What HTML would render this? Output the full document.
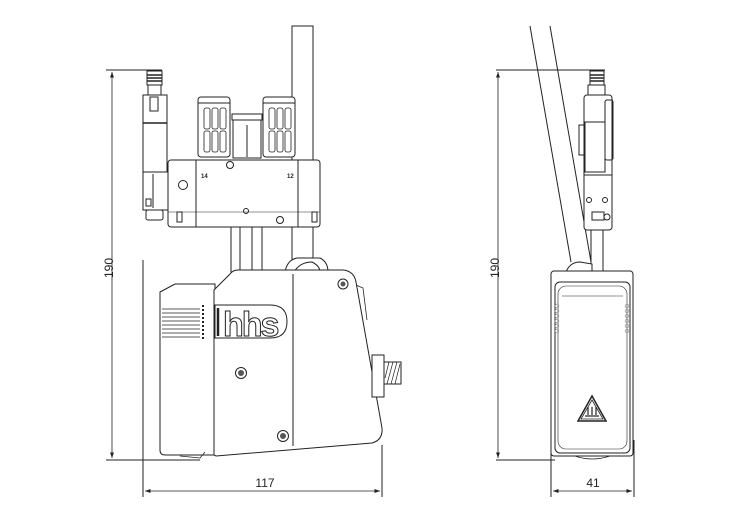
<!DOCTYPE html>
<html><head><meta charset="utf-8"><style>
html,body{margin:0;padding:0;background:#fff;}
svg{display:block}
text{font-family:"Liberation Sans",sans-serif;}
</style></head><body>
<svg width="750" height="530" viewBox="0 0 750 530" xmlns="http://www.w3.org/2000/svg" fill="none" stroke="#222" stroke-width="1">
<defs>
<marker id="a" markerWidth="8" markerHeight="8" refX="7" refY="4" orient="auto-start-reverse"><path d="M0,1.5 L7,4 L0,6.5" fill="#222" stroke="none"/></marker>
</defs>
<line x1="106" y1="70" x2="162" y2="70"/>
<line x1="106" y1="460" x2="200" y2="460"/>
<line x1="112" y1="72" x2="112" y2="458" marker-start="url(#a)" marker-end="url(#a)" stroke-width="0.8"/>
<text x="0" y="0" transform="translate(113,268) rotate(-90)" font-size="12" fill="#222" stroke="none" text-anchor="middle">190</text>
<line x1="143" y1="260" x2="143" y2="497"/>
<line x1="382" y1="445" x2="382" y2="497"/>
<line x1="145" y1="491" x2="380" y2="491" marker-start="url(#a)" marker-end="url(#a)" stroke-width="0.8"/>
<text x="265" y="487" font-size="12" fill="#222" stroke="none" text-anchor="middle">117</text>
<rect x="292" y="26" width="21" height="240" fill="#fff"/>
<rect x="147" y="71" width="15" height="14" fill="#fff"/>
<g stroke-width="1.5"><line x1="147" y1="75" x2="162" y2="75"/><line x1="147" y1="78" x2="162" y2="78"/><line x1="147" y1="81" x2="162" y2="81"/></g>
<rect x="148" y="85" width="13" height="10" fill="#fff"/>
<rect x="143" y="95" width="24" height="77" fill="#fff"/>
<rect x="150" y="97" width="8" height="14"/>
<line x1="143" y1="123" x2="167" y2="123" stroke-width="1.5"/>
<rect x="143" y="172" width="26" height="38" fill="#fff"/>
<line x1="153" y1="174" x2="153" y2="208"/>
<rect x="146" y="199" width="5" height="7"/>
<rect x="146" y="210" width="17" height="10" rx="2" fill="#fff"/>
<g fill="#fff">
<rect x="198" y="97" width="32" height="60" rx="3"/>
<rect x="263" y="97" width="32" height="60" rx="3"/>
<rect x="232" y="114" width="30" height="6"/>
<rect x="233" y="120" width="28" height="38"/>
</g>
<line x1="247" y1="125" x2="247" y2="157"/>
<line x1="198" y1="103" x2="230" y2="103"/><line x1="263" y1="103" x2="295" y2="103"/>
<g stroke-width="0.8">
<rect x="204" y="108" width="6" height="21" rx="2"/><rect x="212" y="108" width="6" height="21" rx="2"/><rect x="220" y="108" width="6" height="21" rx="2"/>
<rect x="204" y="131" width="6" height="21" rx="2"/><rect x="212" y="131" width="6" height="21" rx="2"/><rect x="220" y="131" width="6" height="21" rx="2"/>
<rect x="269" y="108" width="6" height="21" rx="2"/><rect x="277" y="108" width="6" height="21" rx="2"/><rect x="285" y="108" width="6" height="21" rx="2"/>
<rect x="269" y="131" width="6" height="21" rx="2"/><rect x="277" y="131" width="6" height="21" rx="2"/><rect x="285" y="131" width="6" height="21" rx="2"/>
</g>
<rect x="168" y="160" width="152" height="67" rx="3" fill="#fff"/>
<line x1="196" y1="160" x2="196" y2="227"/><line x1="298" y1="160" x2="298" y2="227"/>
<line x1="168" y1="212" x2="320" y2="212" stroke-width="0.6"/>
<circle cx="183" cy="185" r="4.5"/><circle cx="246" cy="211" r="2.5"/>
<circle cx="230" cy="165" r="3.5" fill="#fff"/><circle cx="280" cy="220" r="3.5" fill="#fff"/>
<text x="201" y="178" font-size="6" font-weight="bold" fill="#222" stroke="none">14</text>
<text x="287" y="178" font-size="6" font-weight="bold" fill="#222" stroke="none">12</text>
<rect x="177" y="212" width="5" height="10"/><rect x="312" y="212" width="5" height="10"/>
<rect x="231" y="227" width="31" height="45" fill="#fff"/>
<line x1="240" y1="227" x2="240" y2="272"/><line x1="252" y1="227" x2="252" y2="272"/>
<path d="M285,272 Q287,260 297,258 L320,258 Q328,262 328,272" fill="#fff"/>
<path d="M294,272 Q300,262 312,262 Q320,266 320,272"/>
<path d="M160,292 L175,284 L215,284 L215,455 L165,455 Q160,455 160,450 Z" fill="#fff"/>
<g stroke-width="0.8">
<line x1="162" y1="309" x2="200" y2="309"/><line x1="162" y1="313" x2="200" y2="313"/><line x1="162" y1="317" x2="200" y2="317"/><line x1="162" y1="321" x2="200" y2="321"/><line x1="162" y1="325" x2="200" y2="325"/><line x1="162" y1="329" x2="200" y2="329"/><line x1="162" y1="333" x2="200" y2="333"/><line x1="162" y1="337" x2="200" y2="337"/>
</g>
<line x1="203" y1="305" x2="203" y2="340" stroke-dasharray="2,2" stroke-width="2"/>
<path d="M214,290 L230,274 Q233,270 238,270 L343,270 Q354,271 356,282 L382,428 Q383,440 372,443 L216,456 L214,455 Z" fill="#fff"/>
<line x1="293" y1="274" x2="293" y2="446"/>
<path d="M356,285 L363,288 L367,320" stroke-width="0.8"/>
<path d="M215,305 L270,305 Q287,305 287,321.5 Q287,338 270,338 L215,338 Z" fill="#fff"/>
<line x1="218" y1="308" x2="218" y2="336" stroke-width="2.5"/>
<text x="223" y="336" font-size="34" font-weight="bold" fill="#fff" stroke="#222" stroke-width="1" letter-spacing="-2">hhs</text>
<g fill="#fff"><circle cx="343" cy="284" r="5"/><circle cx="241" cy="373" r="5.5"/><circle cx="283" cy="436" r="5.5"/></g>
<g fill="#555" stroke="none"><circle cx="343" cy="284" r="2.5"/><circle cx="241" cy="373" r="3"/><circle cx="283" cy="436" r="3"/></g>
<rect x="372" y="355" width="12" height="42" fill="#fff"/>
<rect x="384" y="362" width="17" height="22" fill="#fff"/>
<g stroke-width="0.7"><line x1="387" y1="384" x2="393" y2="362"/><line x1="391" y1="384" x2="397" y2="362"/><line x1="395" y1="384" x2="400" y2="364"/><line x1="385" y1="378" x2="389" y2="362"/></g>
<path d="M180,456 L200,458 L205,452" stroke-width="0.8"/>
<line x1="496" y1="70" x2="605" y2="70"/>
<line x1="496" y1="460" x2="555" y2="460"/>
<line x1="498" y1="72" x2="498" y2="458" marker-start="url(#a)" marker-end="url(#a)" stroke-width="0.8"/>
<text x="0" y="0" transform="translate(499,268) rotate(-90)" font-size="12" fill="#222" stroke="none" text-anchor="middle">190</text>
<line x1="551" y1="440" x2="551" y2="497"/>
<line x1="634" y1="440" x2="634" y2="497"/>
<line x1="553" y1="491" x2="632" y2="491" marker-start="url(#a)" marker-end="url(#a)" stroke-width="0.8"/>
<text x="593" y="487" font-size="12" fill="#222" stroke="none" text-anchor="middle">41</text>
<line x1="530" y1="26" x2="571" y2="262"/>
<line x1="550" y1="26" x2="591" y2="262"/>
<rect x="590" y="71" width="14" height="14" fill="#fff"/>
<g stroke-width="1.5"><line x1="590" y1="75" x2="604" y2="75"/><line x1="590" y1="78" x2="604" y2="78"/><line x1="590" y1="81" x2="604" y2="81"/></g>
<rect x="588" y="85" width="17" height="10" fill="#fff"/>
<rect x="584" y="95" width="28" height="135" rx="3" fill="#fff"/>
<rect x="585" y="122" width="20" height="50"/>
<rect x="605" y="100" width="8" height="60" rx="2"/>
<rect x="579" y="125" width="5" height="30"/>
<line x1="584" y1="175" x2="612" y2="175"/>
<circle cx="589" cy="200" r="2.5"/><circle cx="605" cy="200" r="2.5"/>
<rect x="592" y="212" width="12" height="8"/><circle cx="607" cy="217" r="3"/>
<rect x="591" y="230" width="12" height="42" fill="#fff"/>
<path d="M566,272 Q570,262 580,262 L592,264 L592,272" fill="#fff"/>
<rect x="551" y="271" width="82" height="185" rx="3" fill="#fff"/>
<rect x="555" y="282" width="75" height="171" rx="5"/>
<rect x="558" y="286" width="69" height="163" rx="8" stroke-width="0.6"/>
<line x1="562" y1="296" x2="623" y2="296" stroke-width="0.6"/>
<g stroke="#999" stroke-width="0.8">
<circle cx="557" cy="306" r="1.8"/><circle cx="557" cy="311" r="1.8"/><circle cx="557" cy="316" r="1.8"/><circle cx="557" cy="321" r="1.8"/><circle cx="557" cy="326" r="1.8"/><circle cx="557" cy="331" r="1.8"/>
<circle cx="627" cy="306" r="1.8"/><circle cx="627" cy="311" r="1.8"/><circle cx="627" cy="316" r="1.8"/><circle cx="627" cy="321" r="1.8"/><circle cx="627" cy="326" r="1.8"/><circle cx="627" cy="331" r="1.8"/>
</g>
<path d="M575,456 Q592,462 610,456" stroke-width="0.8"/>
<path d="M592,396 L606,421 L578,421 Z" stroke-width="1.5" fill="#fff"/>
<path d="M592,400 L603,419 L581,419 Z" stroke-width="0.8"/>
<g stroke-width="1.2"><line x1="588" y1="407" x2="588" y2="415"/><line x1="592" y1="407" x2="592" y2="415"/><line x1="596" y1="407" x2="596" y2="415"/><line x1="585" y1="416" x2="599" y2="416"/></g>
</svg>
</body></html>
